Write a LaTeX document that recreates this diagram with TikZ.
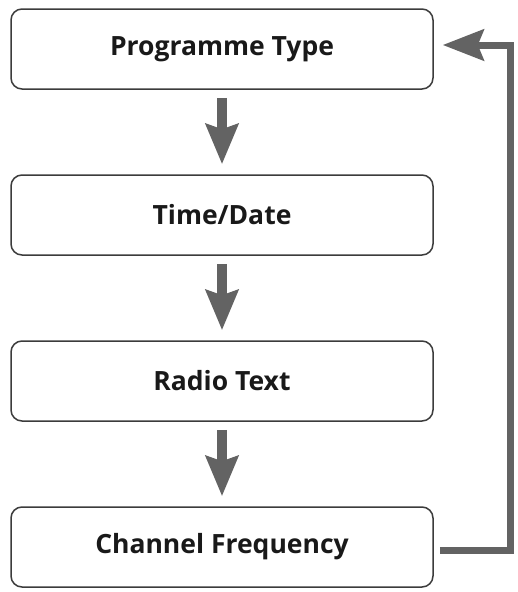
\documentclass[tikz,border=0pt]{standalone}
\usepackage{fontspec}
\setmainfont{Open Sans}
\usetikzlibrary{arrows.meta,positioning,calc}
\definecolor{boxline}{HTML}{3C3C3C}
\definecolor{flowgray}{HTML}{636363}

\begin{document}
\begin{tikzpicture}[x=1pt, y=-1pt,
    stage/.style={draw=boxline, line width=1.5pt, rounded corners=11pt, fill=white,
      minimum width=422pt, minimum height=80pt, inner sep=0pt,
      font=\fontsize{26.5}{30}\selectfont\bfseries, text=black!90},
    flow/.style={draw=flowgray, line width=10pt,
      -{Stealth[width=32pt,length=40pt,inset=5pt]}},
    back/.style={draw=flowgray, line width=7pt,
      -{Stealth[width=31pt,length=41pt,inset=6pt]}}]
    \useasboundingbox (0,0) rectangle (518,592);
    \node[stage] (ptype) at (222,49) {Programme Type};
    \node[stage] (tdate) at (222,215) {Time/Date};
    \node[stage] (rtext) at (222,381) {Radio Text};
    \node[stage] (cfreq) at (222,547) {Channel Frequency};
    \draw[flow] ([yshift=-8pt]ptype.south) -- ([yshift=10pt]tdate.north);
    \draw[flow] ([yshift=-8pt]tdate.south) -- ([yshift=10pt]rtext.north);
    \draw[flow] ([yshift=-8pt]rtext.south) -- ([yshift=10pt]cfreq.north);
    % loop back to the top
    \coordinate (turn) at (510,45);
    \draw[back] ([xshift=6pt,yshift=-3pt]cfreq.east) -| (turn) -- ([xshift=9pt,yshift=4pt]ptype.east);
  \end{tikzpicture}
\end{document}
